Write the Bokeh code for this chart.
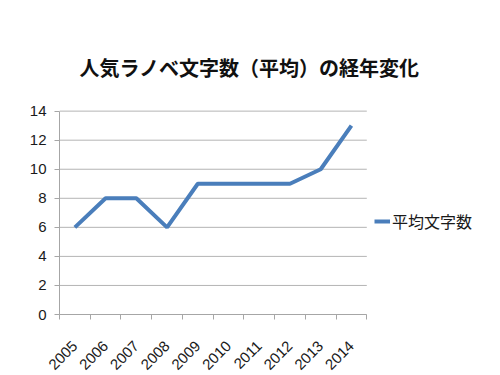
import math
from bokeh.plotting import figure
from bokeh.models import (ColumnDataSource, FixedTicker, Range1d, Legend, LegendItem, Label)
from bokeh.embed import file_html
from bokeh.resources import INLINE

title_text = "人気ラノベ文字数（平均）の経年変化"
years = ["2005", "2006", "2007", "2008", "2009", "2010", "2011", "2012", "2013", "2014"]
avg_chars = [6, 8, 8, 6, 9, 9, 9, 9, 10, 13]
series_name = "平均文字数"
y_ticks = [0, 2, 4, 6, 8, 10, 12, 14]

n = len(years)
xpos = [i + 0.5 for i in range(n)]
src = ColumnDataSource(dict(x=xpos, y=avg_chars, year=years))
grid_src = ColumnDataSource(dict(x0=[0] * len(y_ticks), x1=[n] * len(y_ticks), y=y_ticks))

# frame extends above / right of the value area so title and legend sit inside it
p = figure(frame_width=421, frame_height=276, output_backend="svg", toolbar_location=None,
           x_range=Range1d(0, 13.7), y_range=Range1d(0, 19),
           min_border_left=59, min_border_right=10, min_border_top=38, min_border_bottom=52)
p.outline_line_color = None
p.background_fill_color = "white"
p.border_fill_color = "white"
p.xgrid.grid_line_color = None
p.ygrid.grid_line_color = None

# horizontal gridlines across the category area only
p.segment(x0="x0", x1="x1", y0="y", y1="y", source=grid_src,
          line_color="#b4b4b4", line_width=1)

title = Label(x=6.18, y=17.0, text=title_text,
              text_align="center", text_baseline="middle",
              text_font="Noto Sans CJK JP", text_font_size="20px",
              text_font_style="bold", text_color="#111111")
p.add_layout(title)

line_color = "#4a7ebb"
r = p.line("x", "y", source=src, line_color=line_color, line_width=4)

# x axis: labels at centres, ticks at category edges
xa = p.xaxis[0]
xa.bounds = (0, n)
xa.ticker = FixedTicker(ticks=xpos, minor_ticks=list(range(n + 1)))
xa.major_label_overrides = {x: y for x, y in zip(xpos, years)}
xa.major_label_orientation = math.pi / 4
xa.major_tick_out = 0
xa.major_tick_in = 0
xa.minor_tick_out = 5
xa.minor_tick_in = 0
xa.minor_tick_line_color = "#a6a6a6"
xa.axis_line_color = "#a6a6a6"
xa.major_label_text_font = "Liberation Sans"
xa.major_label_text_font_size = "15px"
xa.major_label_text_color = "#1a1a1a"
xa.major_label_standoff = 24

ya = p.yaxis[0]
ya.ticker = FixedTicker(ticks=y_ticks)
ya.bounds = (y_ticks[0], y_ticks[-1])
ya.major_tick_out = 5
ya.major_tick_in = 0
ya.minor_tick_line_color = None
ya.major_tick_line_color = "#a6a6a6"
ya.axis_line_color = "#a6a6a6"
ya.major_label_text_font = "Liberation Sans"
ya.major_label_text_font_size = "15px"
ya.major_label_text_color = "#1a1a1a"
ya.major_label_standoff = 8

legend = Legend(items=[LegendItem(label=series_name, renderers=[r])],
                location=(315, 81), padding=0, margin=0, spacing=0,
                glyph_width=16, glyph_height=20, label_standoff=2,
                border_line_color=None, background_fill_alpha=0)
legend.label_text_font = "Noto Sans CJK JP"
legend.label_text_font_size = "16px"
legend.label_text_color = "#1a1a1a"
p.add_layout(legend)

open("out.html", "w").write(file_html(p, INLINE))
